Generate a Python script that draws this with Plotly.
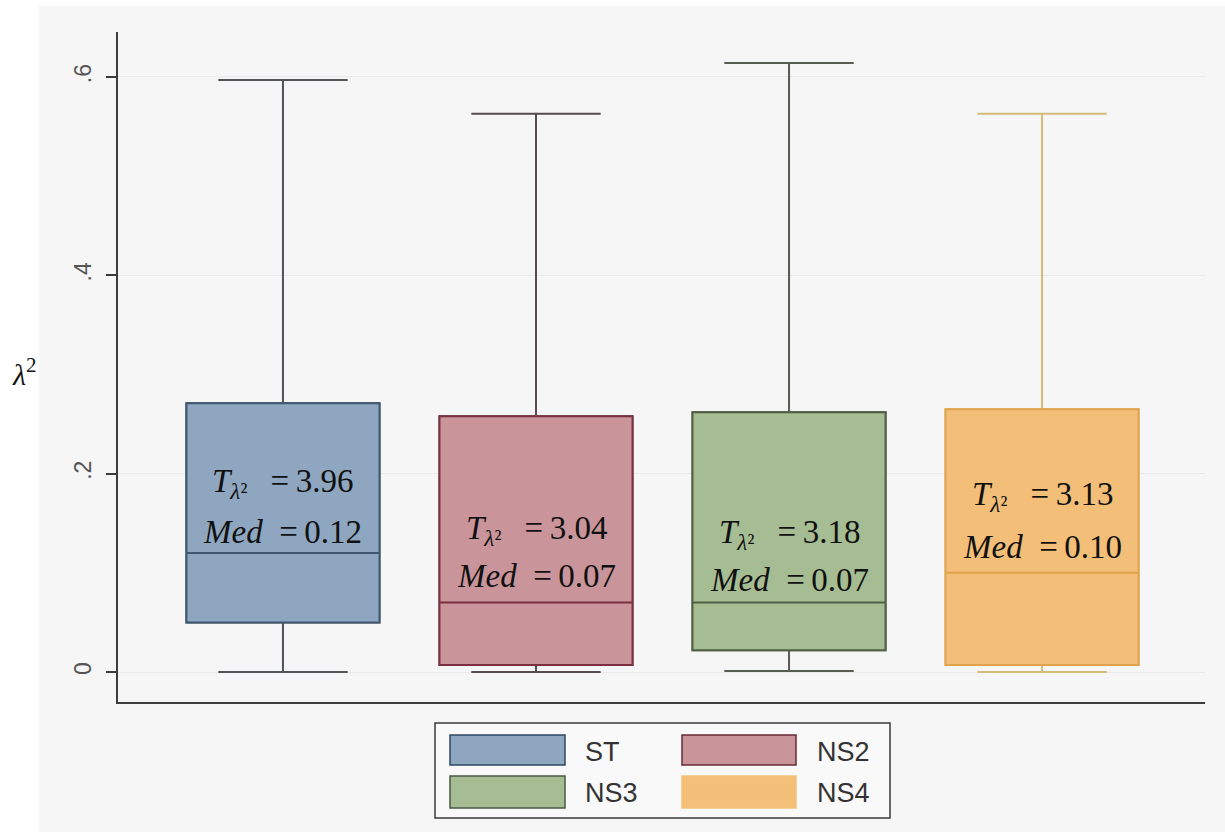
import plotly.graph_objects as go

# ---- data -------------------------------------------------------------
groups = ["ST", "NS2", "NS3", "NS4"]
lower_whisker = [0.000, 0.000, 0.001, 0.000]
q1_vals = [0.050, 0.007, 0.022, 0.007]
medians = [0.12, 0.07, 0.07, 0.10]
q3_vals = [0.271, 0.258, 0.262, 0.265]
upper_whisker = [0.597, 0.563, 0.614, 0.563]
t_stats = [3.96, 3.04, 3.18, 3.13]

y_tick_vals = [0, 0.2, 0.4, 0.6]
y_tick_text = ["0", ".2", ".4", ".6"]

# ---- styling ----------------------------------------------------------
fill_colors = ["#8ea6bf", "#c9959b", "#a6bd93", "#f3be78"]
edge_colors = ["#3e5670", "#7a3040", "#4f6044", "#e0a44e"]
whisker_colors = ["#505458", "#554a4c", "#575c50", "#d2bc78"]
legend_edges = ["#2e4560", "#6a2a35", "#4a5a40", "#efc277"]

# vertical placement of the two statistic lines inside each box
t_label_y = [0.1936, 0.1462, 0.1412, 0.1795]
med_label_y = [0.1412, 0.0968, 0.0928, 0.1260]

W, H = 1225, 832
ML, MR, MT, MB = 118, 20, 32, 130
PW, PH = W - ML - MR, H - MT - MB


def px(x):
    """pixel column -> paper x"""
    return (x - ML) / PW


def py(y):
    """pixel row -> paper y"""
    return (H - MB - y) / PH


positions = [1, 2, 3, 4]
box_w = 0.763

fig = go.Figure()

# whiskers (full five-number box, outline hidden under the coloured box)
for i, g in enumerate(groups):
    fig.add_trace(go.Box(
        x=[positions[i]], q1=[q1_vals[i]], median=[medians[i]], q3=[q3_vals[i]],
        lowerfence=[lower_whisker[i]], upperfence=[upper_whisker[i]],
        width=box_w, whiskerwidth=0.67, boxpoints=False,
        fillcolor="rgba(0,0,0,0)", line=dict(color=whisker_colors[i], width=2),
        showlegend=False, hoverinfo="skip",
    ))

# coloured interquartile boxes with median line
for i, g in enumerate(groups):
    fig.add_trace(go.Box(
        x=[positions[i]], q1=[q1_vals[i]], median=[medians[i]], q3=[q3_vals[i]],
        lowerfence=[q1_vals[i]], upperfence=[q3_vals[i]],
        width=box_w, whiskerwidth=0, boxpoints=False, name=g,
        fillcolor=fill_colors[i], line=dict(color=edge_colors[i], width=2),
        showlegend=False,
    ))

annotations = []
serif = "Liberation Serif, Times New Roman, serif"
for i, g in enumerate(groups):
    annotations.append(dict(
        x=positions[i], y=t_label_y[i], xref="x", yref="y",
        text=f"<i>T</i><sub><i>λ</i>²</sub>\u2002\u2009=\u2009{t_stats[i]:.2f}",
        showarrow=False, xanchor="center", yanchor="middle", yshift=-3,
        font=dict(family=serif, size=33, color="#111111"),
    ))
    annotations.append(dict(
        x=positions[i], y=med_label_y[i], xref="x", yref="y",
        text=f"<i>Med</i>\u2002=\u2009{medians[i]:.2f}",
        showarrow=False, xanchor="center", yanchor="middle",
        font=dict(family=serif, size=33, color="#111111"),
    ))

# y-axis title
annotations.append(dict(
    x=px(24), y=py(372), xref="paper", yref="paper",
    text="<i>λ</i><sup>2</sup>", showarrow=False,
    xanchor="center", yanchor="middle",
    font=dict(family=serif, size=30, color="#111111"),
))

shapes = [
    # white outer border strips
    dict(type="rect", xref="paper", yref="paper", x0=px(0), x1=px(39), y0=py(H), y1=py(0),
         fillcolor="white", line=dict(width=0), layer="below"),
    dict(type="rect", xref="paper", yref="paper", x0=px(0), x1=px(W), y0=py(6), y1=py(0),
         fillcolor="white", line=dict(width=0), layer="below"),
    # legend frame
    dict(type="rect", xref="paper", yref="paper", x0=px(435), x1=px(890), y0=py(818), y1=py(723),
         fillcolor="#f9f9f9", line=dict(color="#3a3a3a", width=1.5)),
]

# legend entries: two columns, two rows
sw_cols = [(450, 565, 583), (682, 796, 815)]
sw_rows = [(735, 765, 752), (776, 808, 793)]
for i, g in enumerate(groups):
    col = sw_cols[i % 2]
    row = sw_rows[i // 2]
    shapes.append(dict(
        type="rect", xref="paper", yref="paper",
        x0=px(col[0]), x1=px(col[1]), y0=py(row[1]), y1=py(row[0]),
        fillcolor=fill_colors[i], line=dict(color=legend_edges[i], width=1.5),
    ))
    annotations.append(dict(
        x=px(col[2]), y=py(row[2]), xref="paper", yref="paper",
        text=g, showarrow=False, xanchor="left", yanchor="middle",
        font=dict(family="Liberation Sans, Arial, sans-serif", size=27, color="#333333"),
    ))

fig.update_layout(
    width=W, height=H,
    margin=dict(l=ML, r=MR, t=MT, b=MB, pad=0),
    paper_bgcolor="#f6f6f6", plot_bgcolor="#f6f6f6",
    boxmode="overlay",
    showlegend=False,
    annotations=annotations,
    shapes=shapes,
    xaxis=dict(
        range=[0.348, 4.644], showgrid=False, zeroline=False,
        showticklabels=False, ticks="",
        showline=True, linecolor="#3c3c3c", linewidth=2,
    ),
    yaxis=dict(
        range=[-0.03025, 0.64536],
        tickvals=y_tick_vals, ticktext=y_tick_text,
        tickangle=-90, ticks="outside", ticklen=10, tickwidth=1.5, tickcolor="#3c3c3c",
        tickfont=dict(family="Liberation Sans, Arial, sans-serif", size=23, color="#555555"),
        showgrid=True, gridcolor="#e9e9e9", gridwidth=1, zeroline=False,
        showline=True, linecolor="#3c3c3c", linewidth=2,
        ticklabelstandoff=6,
    ),
)

fig.write_html("out.html")
